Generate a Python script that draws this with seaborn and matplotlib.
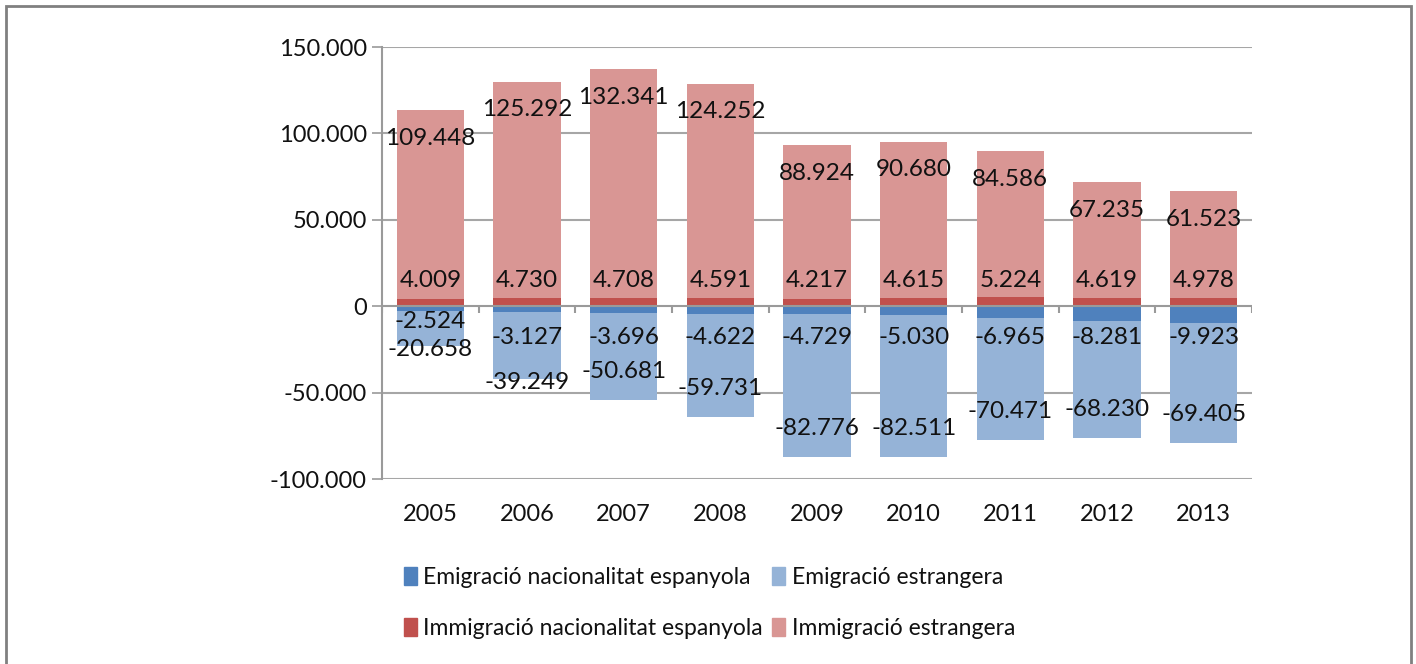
import matplotlib
matplotlib.use('Agg')
import matplotlib.pyplot as plt
import seaborn as sns
import pandas as pd
import numpy as np
from matplotlib.patches import Patch, Rectangle

# Dades
anys = ['2005', '2006', '2007', '2008', '2009', '2010', '2011', '2012', '2013']
emig_espanyola = [-2524, -3127, -3696, -4622, -4729, -5030, -6965, -8281, -9923]
emig_estrangera = [-20658, -39249, -50681, -59731, -82776, -82511, -70471, -68230, -69405]
immig_espanyola = [4009, 4730, 4708, 4591, 4217, 4615, 5224, 4619, 4978]
immig_estrangera = [109448, 125292, 132341, 124252, 88924, 90680, 84586, 67235, 61523]

y_ticks = [150000, 100000, 50000, 0, -50000, -100000]

c_emig_esp = '#4F81BD'
c_emig_est = '#95B3D7'
c_immig_esp = '#C0504D'
c_immig_est = '#D99694'

sns.set_theme(style='white')
plt.rcParams['font.family'] = ['Lato', 'DejaVu Sans']
plt.rcParams['text.color'] = '#111111'


def fmt(v):
    return f'{v:,}'.replace(',', '.')


df = pd.DataFrame({
    'any': anys,
    'emig_esp': emig_espanyola,
    'emig_est': emig_estrangera,
    'immig_esp': immig_espanyola,
    'immig_est': immig_estrangera,
})
df['neg_total'] = df['emig_esp'] + df['emig_est']
df['pos_total'] = df['immig_esp'] + df['immig_est']

fig = plt.figure(figsize=(14.16, 6.64), dpi=100)
ax = fig.add_axes([382 / 1416, 1 - 479 / 664, 870 / 1416, 432 / 664])

# barres apilades (total primer, segment interior a sobre)
for col, color in [('pos_total', c_immig_est), ('immig_esp', c_immig_esp),
                   ('neg_total', c_emig_est), ('emig_esp', c_emig_esp)]:
    sns.barplot(data=df, x='any', y=col, color=color, width=0.7,
                saturation=1, ax=ax, linewidth=0, zorder=3)

ax.set_ylim(-100000, 150000)
ax.set_xlim(-0.5, len(anys) - 0.5)
ax.set_yticks(y_ticks)
ax.set_yticklabels([fmt(v) for v in y_ticks], fontsize=17)
ax.set_xlabel('')
ax.set_ylabel('')
ax.tick_params(axis='x', length=0, labelsize=17, pad=18, labelcolor='#111111')
ax.tick_params(axis='y', length=7, width=1.2, color='#9A9A9A', left=True,
               labelsize=17, pad=4, labelcolor='#111111')

for v in y_ticks:
    if v != 0:
        ax.axhline(v, color='#A6A6A6', lw=1.5, zorder=1)
ax.axhline(0, color='#9A9A9A', lw=1.5, zorder=4)
for s in ['top', 'right', 'bottom']:
    ax.spines[s].set_visible(False)
ax.spines['left'].set_color('#9A9A9A')
ax.spines['left'].set_linewidth(1.5)

# marques de categoria a l'eix zero
px = 250000 / 432.0
bounds = np.arange(len(anys) + 1) - 0.5
ax.vlines(bounds, -7 * px, 0, color='#9A9A9A', lw=1.5, zorder=4)

# etiquetes de dades
fs = 17.5
for i, r in df.iterrows():
    # immigració
    ax.text(i, r['pos_total'] - 28 * px, fmt(r['immig_est']),
            ha='center', va='center', fontsize=fs, zorder=5)
    ax.text(i, 26 * px, fmt(r['immig_esp']),
            ha='center', va='center', fontsize=fs, zorder=5)
    # emigració
    y_est = r['neg_total'] + 29 * px
    y_esp = -31 * px
    if y_est - y_esp > -28 * px:
        y_est = r['neg_total'] - 3 * px
        y_esp = max(y_esp, y_est + 28 * px)
    ax.text(i, y_est, fmt(r['emig_est']),
            ha='center', va='center', fontsize=fs, zorder=5)
    ax.text(i, y_esp, fmt(r['emig_esp']),
            ha='center', va='center', fontsize=fs, zorder=5)

handles = [
    Patch(color=c_emig_esp, label='Emigració nacionalitat espanyola'),
    Patch(color=c_immig_esp, label='Immigració nacionalitat espanyola'),
    Patch(color=c_emig_est, label='Emigració estrangera'),
    Patch(color=c_immig_est, label='Immigració estrangera'),
]
fig.legend(handles=handles, ncol=2, loc='upper left',
           bbox_to_anchor=(404 / 1416, 1 - 567 / 664), frameon=False,
           fontsize=16.5, handlelength=0.55, handleheight=0.8, handletextpad=0.3,
           columnspacing=0.4, labelspacing=1.3, borderpad=0, borderaxespad=0)

fig.add_artist(Rectangle((6 / 1416, -0.05), 1405 / 1416, 1.05 - 6 / 664,
                         transform=fig.transFigure, fill=False,
                         edgecolor='#808080', lw=2))

fig.savefig('out.png', dpi=100)
